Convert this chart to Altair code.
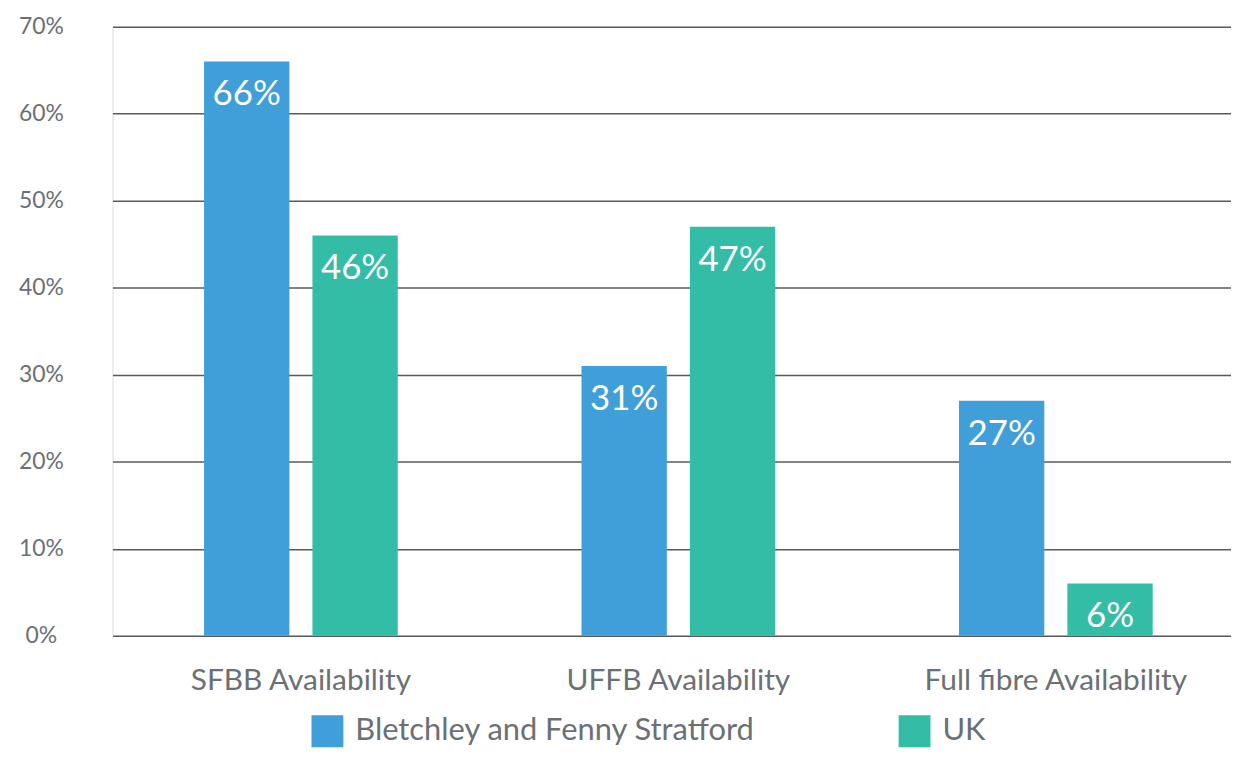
import altair as alt
import pandas as pd

categories = ["SFBB Availability", "UFFB Availability", "Full fibre Availability"]
series = ["Bletchley and Fenny Stratford", "UK"]
bletchley = [66, 31, 27]
uk = [46, 47, 6]
colors = ["#409ED9", "#33BDA6"]

rows = []
for c, b, u in zip(categories, bletchley, uk):
    rows.append({"category": c, "series": series[0], "value": b, "label": f"{b}%"})
    rows.append({"category": c, "series": series[1], "value": u, "label": f"{u}%"})
df = pd.DataFrame(rows)

FONT = "Lato"
GREY = "#6B7075"

x = alt.X("category:N", sort=categories, title=None,
          scale=alt.Scale(paddingInner=0.4868, paddingOuter=0.225, align=0.539),
          axis=alt.Axis(labelAngle=0, labelFontSize=30, labelColor=GREY, labelFont=FONT,
                        labelPadding=30, ticks=False, domain=False, labelLimit=400))
xo = alt.XOffset("series:N", sort=series,
                 scale=alt.Scale(paddingInner=0.213, paddingOuter=0))
y = alt.Y("value:Q", title=None,
          scale=alt.Scale(domain=[0, 70]),
          axis=alt.Axis(values=[0, 10, 20, 30, 40, 50, 60, 70], labelExpr="datum.value + '%'",
                        labelFontSize=23, labelColor=GREY, labelFont=FONT, labelAlign="center",
                        labelPadding=72, ticks=False, domain=False, grid=True,
                        gridColor="#5A5A5A", gridWidth=1.5))

color = alt.Color("series:N", sort=series, title=None,
                  scale=alt.Scale(domain=series, range=colors),
                  legend=alt.Legend(orient="none", legendX=200, legendY=692, direction="horizontal",
                                    symbolType="square", symbolSize=1024, symbolStrokeWidth=0,
                                    labelFontSize=31, labelColor=GREY, labelFont=FONT,
                                    labelOffset=12, columnPadding=143, padding=0,
                                    labelLimit=600))

bars = alt.Chart(df).mark_bar().encode(x=x, xOffset=xo, y=y, color=color)
labels = alt.Chart(df).mark_text(color="white", fontSize=35, font=FONT, baseline="middle", dy=33).encode(
    x=x, xOffset=xo, y=y, text="label:N")

chart = (bars + labels).properties(
    width=1124, height=612,
    autosize=alt.AutoSizeParams(type="none"),
    padding={"left": 105, "top": 17, "right": 0, "bottom": 112},
).configure_view(stroke=None).configure(background="white")

chart.save("out.html", embed_options={"renderer": "svg", "actions": False})
